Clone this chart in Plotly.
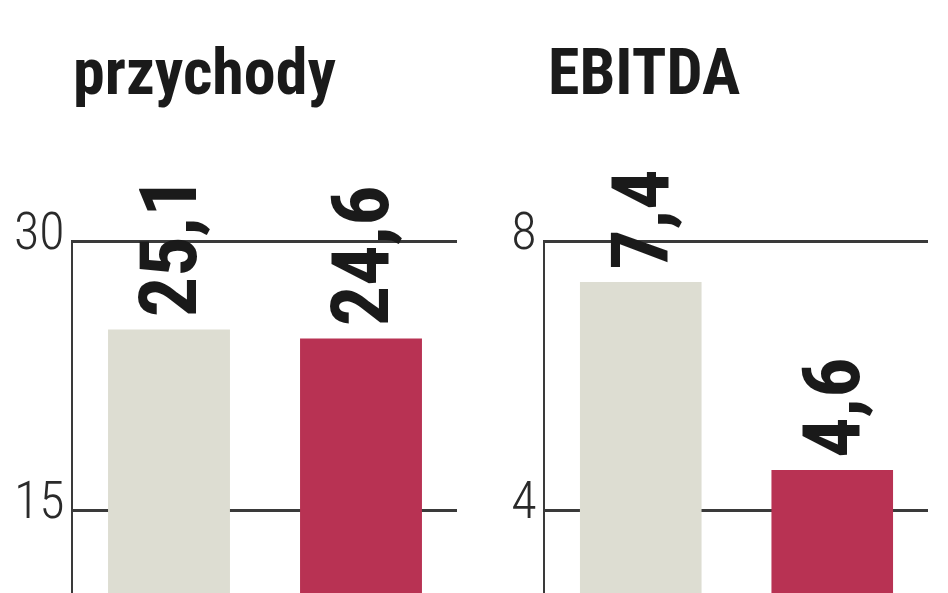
import plotly.graph_objects as go
from plotly.subplots import make_subplots

categories = ["A", "B"]
przychody = [25.1, 24.6]
ebitda = [7.4, 4.6]
titles = ["przychody", "EBITDA"]
colors = ["#ddddd2", "#b83253"]

NARROW = "Roboto Condensed, Liberation Sans Narrow, DejaVu Sans Condensed, sans-serif"

def fmt(v):
    return f"{v:.1f}".replace(".", ",")

W, H = 948, 593
OFF = 8  # page body offset

fig = make_subplots(rows=1, cols=2)

for col, vals in ((1, przychody), (2, ebitda)):
    fig.add_trace(go.Bar(
        x=categories, y=vals,
        marker=dict(color=colors, line=dict(width=0)),
        text=[fmt(v) for v in vals],
        texttemplate="<span style='font-size:40px'>&nbsp;</span>%{text}",
        textposition="outside",
        textangle=-90,
        cliponaxis=False,
        constraintext="none",
        textfont=dict(family=NARROW, size=80, color="#1a1a1a", weight="bold"),
        width=0.635,
        showlegend=False,
    ), row=1, col=col)

ytop = (H - (240 - OFF)) / H
fig.update_xaxes(showticklabels=False, showgrid=False, zeroline=False, showline=False,
                 range=[-0.5, 1.5], fixedrange=True, automargin=False)
fig.update_layout(
    xaxis=dict(domain=[(73 - OFF) / W, (457 - OFF) / W]),
    xaxis2=dict(domain=[(545 - OFF) / W, (928 - OFF) / W]),
    yaxis=dict(domain=[0, ytop], range=[9.94, 30.1], tickvals=[15, 30]),
    yaxis2=dict(domain=[0, ytop], range=[2.65, 8.025], tickvals=[4, 8]),
)
fig.update_yaxes(showgrid=True, gridcolor="#3a3a3a", gridwidth=3,
                 showline=True, linecolor="#3a3a3a", linewidth=2,
                 zeroline=False, ticks="", automargin=False,
                 ticklabelshift=-11, ticklabelstandoff=-4,
                 tickfont=dict(family=NARROW, size=52, color="#2a2a2a", weight=300))

for xpos, t in ((63 / W, titles[0]), (538 / W, titles[1])):
    fig.add_annotation(x=xpos, y=(H - 65) / H, xref="paper", yref="paper",
                       xanchor="left", yanchor="middle", showarrow=False,
                       text=f"<b>{t}</b>",
                       font=dict(family=NARROW, size=64, color="#1a1a1a"))

fig.update_layout(
    width=W, height=H,
    margin=dict(l=0, r=0, t=0, b=0, autoexpand=False),
    paper_bgcolor="white", plot_bgcolor="white",
    bargap=0.365,
)
fig.write_html("out.html")
